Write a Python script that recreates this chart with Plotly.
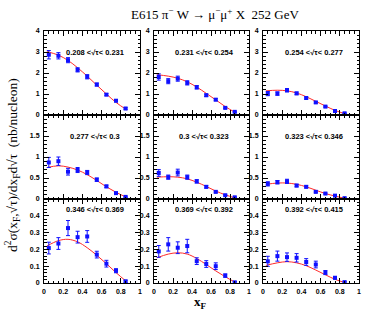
import plotly.graph_objects as go

xf = [0.05, 0.15, 0.25, 0.35, 0.45, 0.55, 0.65, 0.75, 0.85]
curve_x = [0.03, 0.15, 0.25, 0.35, 0.45, 0.55, 0.65, 0.75, 0.86]

bins = ["0.208 <√τ< 0.231", "0.231 <√τ< 0.254", "0.254 <√τ< 0.277",
        "0.277 <√τ< 0.3", "0.3 <√τ< 0.323", "0.323 <√τ< 0.346",
        "0.346 <√τ< 0.369", "0.369 <√τ< 0.392", "0.392 <√τ< 0.415"]

data_y = [
    [2.87, 2.82, 2.61, 2.15, 1.82, 1.45, 0.97, 0.68, 0.31],
    [1.81, 1.61, 1.73, 1.53, 1.32, 0.94, 0.73, 0.34, 0.15],
    [1.02, 1.02, 1.18, 1.03, 0.81, 0.60, 0.40, 0.19, 0.08],
    [0.87, 0.90, 0.65, 0.69, 0.63, 0.46, 0.30, 0.14, 0.05],
    [0.62, 0.52, 0.63, 0.52, 0.42, 0.29, 0.17, 0.09, 0.04],
    [0.36, 0.40, 0.42, 0.32, 0.29, 0.17, 0.13, 0.08, 0.02],
    [0.208, 0.235, 0.327, 0.273, 0.277, 0.169, 0.115, 0.073, 0.010],
    [0.188, 0.230, 0.210, 0.220, 0.130, 0.113, 0.100, 0.044, 0.004],
    [0.129, 0.160, 0.154, 0.150, 0.125, 0.110, 0.062, 0.031, 0.005],
]
data_err = [
    [0.20, 0.15, 0.12, 0.10, 0.10, 0.07, 0.05, 0.05, 0.04],
    [0.15, 0.12, 0.12, 0.10, 0.08, 0.06, 0.05, 0.04, 0.03],
    [0.10, 0.08, 0.08, 0.06, 0.05, 0.04, 0.03, 0.02, 0.02],
    [0.12, 0.10, 0.08, 0.06, 0.05, 0.04, 0.03, 0.02, 0.015],
    [0.08, 0.05, 0.08, 0.05, 0.04, 0.03, 0.02, 0.015, 0.01],
    [0.05, 0.04, 0.05, 0.03, 0.025, 0.02, 0.015, 0.01, 0.01],
    [0.035, 0.035, 0.045, 0.035, 0.035, 0.02, 0.02, 0.012, 0.006],
    [0.035, 0.04, 0.035, 0.04, 0.02, 0.02, 0.02, 0.01, 0.005],
    [0.03, 0.03, 0.025, 0.025, 0.02, 0.02, 0.012, 0.008, 0.005],
]
curve_y = [
    [3.02, 2.85, 2.60, 2.25, 1.85, 1.42, 1.00, 0.60, 0.25],
    [1.92, 1.85, 1.75, 1.58, 1.33, 1.03, 0.72, 0.40, 0.11],
    [1.15, 1.18, 1.15, 1.05, 0.87, 0.65, 0.43, 0.22, 0.05],
    [0.75, 0.79, 0.76, 0.69, 0.58, 0.44, 0.29, 0.16, 0.04],
    [0.52, 0.53, 0.52, 0.48, 0.40, 0.30, 0.19, 0.10, 0.02],
    [0.35, 0.38, 0.38, 0.35, 0.29, 0.21, 0.13, 0.07, 0.01],
    [0.22, 0.252, 0.26, 0.245, 0.21, 0.165, 0.115, 0.062, 0.008],
    [0.15, 0.172, 0.18, 0.172, 0.146, 0.11, 0.072, 0.037, 0.003],
    [0.105, 0.12, 0.127, 0.12, 0.103, 0.077, 0.049, 0.022, 0.001],
]

row_range = [4, 2, 0.5]
row_ticks = [[0, 1, 2, 3, 4], [0, 0.5, 1, 1.5], [0, 0.1, 0.2, 0.3, 0.4]]
row_tick_text = [["0", "1", "2", "3", "4"], ["0", "0.5", "1", "1.5"],
                 ["0", "0.1", "0.2", "0.3", "0.4"]]
row_minor = [0.2, 0.1, 0.02]
row_label_y = [3.0, 1.5, 0.44]
x_ticks = [0, 0.2, 0.4, 0.6, 0.8, 1]
x_tick_text = ["0", "0.2", "0.4", "0.6", "0.8", "1"]

W, H = 365, 314
ML, MR, MT, MB = 44, 6, 31, 31
PW, PH = W - ML - MR, H - MT - MB
col_px = [(44, 140), (154, 249), (263, 359)]
col_dom = [[(a - ML) / PW, (b - ML) / PW] for a, b in col_px]
row_dom = [[2 / 3, 1], [1 / 3, 2 / 3], [0, 1 / 3]]

tickfont = dict(family="Liberation Sans", size=7, color="black", weight="bold")

fig = go.Figure()
layout = {}
annotations = []
for i in range(9):
    r, c = divmod(i, 3)
    n = i + 1
    xa = "x" if n == 1 else f"x{n}"
    ya = "y" if n == 1 else f"y{n}"
    fig.add_trace(go.Scatter(
        x=curve_x, y=curve_y[i], mode="lines", line=dict(color="#ff2a2a", width=1, shape="spline"),
        xaxis=xa, yaxis=ya, showlegend=False, hoverinfo="skip"))
    fig.add_trace(go.Scatter(
        x=xf, y=data_y[i], mode="markers",
        marker=dict(color="#1010ff", size=4, symbol="square"),
        error_y=dict(type="data", array=data_err[i], color="#1010ff", thickness=1, width=2),
        xaxis=xa, yaxis=ya, showlegend=False))
    common = dict(showline=True, linecolor="black", linewidth=1, mirror="allticks",
                  ticks="inside", ticklen=5, tickwidth=1, tickcolor="black",
                  showgrid=False, zeroline=False, tickfont=tickfont, fixedrange=True)
    layout[f"xaxis{'' if n == 1 else n}"] = dict(
        common, domain=col_dom[c], range=[0, 1], anchor=ya,
        tickvals=x_ticks, ticktext=x_tick_text, showticklabels=(r == 2),
        minor=dict(dtick=0.05, ticklen=2.5, ticks="inside", tickcolor="black"),
        ticklabelstandoff=2)
    layout[f"yaxis{'' if n == 1 else n}"] = dict(
        common, domain=row_dom[r], range=[0, row_range[r]], anchor=xa,
        tickvals=row_ticks[r], ticktext=row_tick_text[r],
        minor=dict(dtick=row_minor[r], ticklen=2.5, ticks="inside", tickcolor="black"),
        ticklabelstandoff=2)
    annotations.append(dict(x=0.53, y=row_label_y[r], xref=xa, yref=ya, text=bins[i],
                            showarrow=False, xanchor="center", yanchor="middle",
                            font=dict(family="Liberation Sans", size=7.5, color="black", weight="bold")))

annotations.append(dict(x=(215 - ML) / PW, y=(H - MB - 14) / PH, xref="paper", yref="paper",
                        text="E615 π<sup>−</sup> W → μ<sup>−</sup>μ<sup>+</sup> X  252 GeV",
                        showarrow=False, xanchor="center", yanchor="middle",
                        font=dict(family="Liberation Serif", size=13, color="black")))
annotations.append(dict(x=(12 - ML) / PW, y=(H - MB - 165) / PH, xref="paper", yref="paper",
                        text="d<sup>2</sup>σ(x<sub>F</sub>,√τ)/dx<sub>F</sub>d√τ  (nb/nucleon)",
                        textangle=-90, showarrow=False, xanchor="center", yanchor="middle",
                        font=dict(family="Liberation Serif", size=13.5, color="black")))
annotations.append(dict(x=(200 - ML) / PW, y=(H - MB - 302) / PH, xref="paper", yref="paper",
                        text="<b>x<sub>F</sub></b>", showarrow=False, xanchor="center", yanchor="middle",
                        font=dict(family="Liberation Serif", size=13, color="black")))

fig.update_layout(**layout)
fig.update_layout(width=W, height=H, margin=dict(l=ML, r=MR, t=MT, b=MB, autoexpand=False),
                  paper_bgcolor="white", plot_bgcolor="white", annotations=annotations)
fig.write_html("out.html", config={"displayModeBar": False})
